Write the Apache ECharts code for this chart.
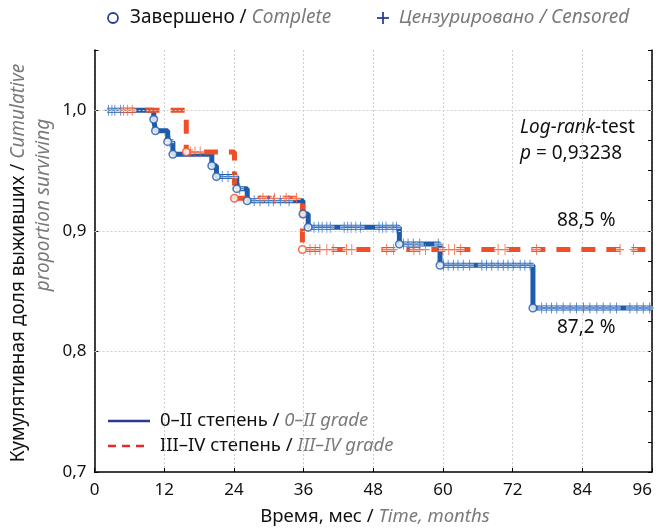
<!DOCTYPE html>
<html>
<head>
<meta charset="utf-8">
<script src="https://cdn.jsdelivr.net/npm/echarts@6/dist/echarts.min.js"></script>
<style>
  html, body { margin: 0; padding: 0; background: #fff; }
  #chart { width: 657px; height: 528px; }
</style>
</head>
<body>
<div id="chart"></div>
<script>
// Kaplan-Meier curves, values
const blueTime = [2.2, 10.2, 10.5, 12.6, 13.5, 20.2, 21.0, 24.5, 26.3, 35.9, 36.8, 52.5, 59.5, 75.5, 96]
const blueSurv = [1.0, 0.9925, 0.983, 0.974, 0.9635, 0.954, 0.945, 0.935, 0.925, 0.914, 0.903, 0.889, 0.8715, 0.836, 0.836]

const redTime = [4.5, 15.8, 24.1, 35.8, 96]
const redSurv = [1.0, 0.9654, 0.927, 0.8845, 0.8845]

// complete events (circles)
const blueComplete = [[10.2, 0.9925], [10.5, 0.983], [12.6, 0.974], [13.5, 0.9635], [20.2, 0.954], [21.0, 0.945],
  [24.5, 0.935], [26.3, 0.925], [35.9, 0.914], [36.8, 0.903], [52.5, 0.889], [59.5, 0.8715], [75.5, 0.836]]
const redComplete = [[15.8, 0.9654], [24.1, 0.927], [35.8, 0.8845]]

// censored (+)
const blueCensored = [
  [2.4, 1.0], [3.0, 1.0], [3.5, 1.0], [4.5, 1.0],
  [13.0, 0.974],
  [22.0, 0.945], [23.0, 0.945], [24.0, 0.945], [25.0, 0.935],
  [27.5, 0.925], [28.5, 0.925], [30.0, 0.925], [30.8, 0.925], [32.0, 0.925], [33.5, 0.925],
  [37.8, 0.903], [38.6, 0.903], [39.2, 0.903], [40.0, 0.903], [40.6, 0.903], [43.0, 0.903], [43.6, 0.903],
  [44.2, 0.903], [45.0, 0.903], [45.8, 0.903], [49.0, 0.903], [49.6, 0.903], [50.2, 0.903], [51.4, 0.903], [52.0, 0.903],
  [53.2, 0.889], [54.0, 0.889], [54.9, 0.889], [56.0, 0.889], [59.2, 0.889],
  [60.1, 0.8715], [60.9, 0.8715], [61.8, 0.8715], [62.6, 0.8715], [63.5, 0.8715], [64.6, 0.8715], [66.7, 0.8715],
  [67.5, 0.8715], [68.4, 0.8715], [69.5, 0.8715], [70.4, 0.8715], [71.2, 0.8715], [72.1, 0.8715], [73.3, 0.8715],
  [74.1, 0.8715], [75.0, 0.8715],
  [77.0, 0.836], [77.8, 0.836], [78.7, 0.836], [79.6, 0.836], [80.7, 0.836], [81.9, 0.836], [83.0, 0.836],
  [84.2, 0.836], [85.3, 0.836], [86.5, 0.836], [87.6, 0.836], [88.8, 0.836], [89.9, 0.836], [92.2, 0.836],
  [93.4, 0.836], [94.5, 0.836], [95.6, 0.836]
]
const redCensored = [
  [5.0, 1.0], [5.7, 1.0], [6.5, 1.0],
  [16.5, 0.9654], [17.3, 0.9654], [18.2, 0.9654],
  [29.0, 0.927], [31.0, 0.927], [33.0, 0.927], [34.8, 0.927],
  [37.1, 0.8845], [38.0, 0.8845], [38.8, 0.8845], [40.0, 0.8845], [41.1, 0.8845], [43.4, 0.8845], [44.3, 0.8845],
  [50.3, 0.8845], [51.5, 0.8845], [55.0, 0.8845], [56.0, 0.8845], [57.0, 0.8845],
  [60.0, 0.8845], [61.0, 0.8845], [62.0, 0.8845], [63.0, 0.8845], [69.5, 0.8845], [70.7, 0.8845],
  [76.1, 0.8845], [90.5, 0.8845], [92.8, 0.8845]
]

const xTicks = [0, 12, 24, 36, 48, 60, 72, 84, 96]
const yTicks = [0.7, 0.8, 0.9, 1.0]
const yGrid = [0.8, 0.9, 1.0]

const FONT = 'Noto Sans'
const FS = 18.5
const BLUE = '#1f5bab'
const RED = '#f04e27'
const GREY = '#7a7a7a'
const PLUS = 'path://M4.4,0h1.2v10h-1.2z M0,4.4h10v1.2h-10z'

const chart = echarts.init(document.getElementById('chart'))

const zip = (a, b) => a.map((v, i) => [v, b[i]])

// black text followed by grey italic text
const mixed = (a, b, size) => ({
  text: `{a|${a}}{b|${b}}`,
  rich: {
    a: { fontFamily: FONT, fontSize: size, fill: '#111' },
    b: { fontFamily: FONT, fontSize: size, fill: GREY, fontStyle: 'italic' }
  }
})

// censor mark: white gap in the thick line, then a thin plus on top
const censorSeries = (data, color) => [
  {
    type: 'scatter', data, symbol: 'rect', symbolSize: [8, 3], silent: true,
    itemStyle: { color: '#fff' }, z: 4
  },
  {
    type: 'scatter', data, symbol: PLUS, symbolSize: [8, 11],
    itemStyle: { color }, z: 4.5
  }
]

const option = {
  animation: false,
  textStyle: { fontFamily: FONT },
  grid: { left: 94.5, right: 5, top: 50, bottom: 56, outerBoundsMode: 'none' },
  xAxis: {
    type: 'value', min: 0, max: 96, interval: 12,
    axisLine: { lineStyle: { color: '#000', width: 1.5 } },
    axisTick: { inside: true, length: 4, lineStyle: { color: '#000' } },
    axisLabel: {
      color: '#111', fontSize: 17, margin: 10, alignMaxLabel: 'right',
      formatter: v => xTicks.includes(v) ? String(v) : ''
    },
    splitLine: { show: true, lineStyle: { color: '#cfcfcf', type: [2, 2] } }
  },
  yAxis: [
    {
      type: 'value', min: 0.7, max: 1.05, interval: 0.1,
      axisLine: { show: true, lineStyle: { color: '#000', width: 1.5 } },
      axisTick: { show: true, inside: true, length: 4, lineStyle: { color: '#000' } },
      axisLabel: {
        color: '#111', fontSize: 17, margin: 8,
        formatter: v => yTicks.some(t => Math.abs(t - v) < 1e-6) ? v.toFixed(1).replace('.', ',') : ''
      },
      splitLine: { show: false }
    },
    {
      type: 'value', min: 0.7, max: 1.05, interval: 0.025, position: 'right',
      axisLine: { show: true, lineStyle: { color: '#000', width: 1.5 } },
      axisTick: { show: true, inside: true, length: 4, lineStyle: { color: '#000' } },
      axisLabel: { show: false },
      splitLine: { show: false }
    }
  ],
  series: [
    {
      // horizontal grid lines
      type: 'line', data: [], silent: true,
      markLine: {
        silent: true, symbol: 'none', label: { show: false },
        lineStyle: { color: '#cfcfcf', type: [2, 2], width: 1 },
        data: yGrid.map(v => ({ yAxis: v }))
      }
    },
    {
      name: '0–II', type: 'line', step: 'end', data: zip(blueTime, blueSurv),
      showSymbol: false, lineStyle: { color: BLUE, width: 5 }, z: 2
    },
    {
      name: 'III–IV', type: 'line', step: 'end', data: zip(redTime, redSurv),
      showSymbol: false, lineStyle: { color: RED, width: 5, type: [14, 11], cap: 'butt' }, z: 3
    },
    ...censorSeries(blueCensored, '#3572c4'),
    ...censorSeries(redCensored, '#f2603a'),
    {
      type: 'scatter', data: blueComplete, symbol: 'circle', symbolSize: 7.5,
      itemStyle: { color: '#fff', borderColor: BLUE, borderWidth: 1.6 }, z: 5
    },
    {
      type: 'scatter', data: redComplete, symbol: 'circle', symbolSize: 7.5,
      itemStyle: { color: '#fff', borderColor: RED, borderWidth: 1.6 }, z: 5
    }
  ],
  graphic: [
    // top legend
    { type: 'circle', shape: { cx: 113, cy: 18, r: 5 }, style: { fill: '#fff', stroke: '#2b3f96', lineWidth: 1.8 } },
    { type: 'text', x: 130, y: 18, style: Object.assign(mixed('Завершено / ', 'Complete', 19), { verticalAlign: 'middle' }) },
    { type: 'line', shape: { x1: 377, y1: 18, x2: 389, y2: 18 }, style: { stroke: '#2b3f96', lineWidth: 1.8 } },
    { type: 'line', shape: { x1: 383, y1: 12, x2: 383, y2: 24 }, style: { stroke: '#2b3f96', lineWidth: 1.8 } },
    {
      type: 'text', x: 399, y: 18,
      style: { text: 'Цензурировано / Censored', verticalAlign: 'middle', fontFamily: FONT, fontSize: 19, fill: GREY, fontStyle: 'italic' }
    },
    // bottom legend
    { type: 'line', shape: { x1: 108, y1: 421, x2: 150, y2: 421 }, style: { stroke: '#2b3a92', lineWidth: 2.5 } },
    { type: 'text', x: 160, y: 421, style: Object.assign(mixed('0–II степень / ', '0–II grade', FS), { verticalAlign: 'middle' }) },
    { type: 'line', shape: { x1: 108, y1: 446, x2: 150, y2: 446 }, style: { stroke: '#e8262b', lineWidth: 2.5, lineDash: [8, 6] } },
    { type: 'text', x: 160, y: 446, style: Object.assign(mixed('III–IV степень / ', 'III–IV grade', FS), { verticalAlign: 'middle' }) },
    // test annotation
    {
      type: 'text', x: 520, y: 128,
      style: {
        text: '{i|Log-rank}{a|-test}', verticalAlign: 'middle',
        rich: {
          i: { fontFamily: FONT, fontSize: 19, fill: '#111', fontStyle: 'italic' },
          a: { fontFamily: FONT, fontSize: 19, fill: '#111' }
        }
      }
    },
    {
      type: 'text', x: 520, y: 154,
      style: {
        text: '{i|p}{a| = 0,93238}', verticalAlign: 'middle',
        rich: {
          i: { fontFamily: FONT, fontSize: 19, fill: '#111', fontStyle: 'italic' },
          a: { fontFamily: FONT, fontSize: 19, fill: '#111' }
        }
      }
    },
    { type: 'text', x: 557, y: 221, style: { text: '88,5 %', verticalAlign: 'middle', fontFamily: FONT, fontSize: 19, fill: '#111' } },
    { type: 'text', x: 557, y: 328, style: { text: '87,2 %', verticalAlign: 'middle', fontFamily: FONT, fontSize: 19, fill: '#111' } },
    // axis names
    {
      type: 'text', x: 375, y: 517,
      style: Object.assign(mixed('Время, мес / ', 'Time, months', FS), { align: 'center', verticalAlign: 'middle' })
    },
    {
      type: 'text', x: 19, y: 263, rotation: Math.PI / 2,
      style: Object.assign(mixed('Кумулятивная доля выживших / ', 'Cumulative', 19), { align: 'center', verticalAlign: 'middle' })
    },
    {
      type: 'text', x: 44, y: 205, rotation: Math.PI / 2,
      style: { text: 'proportion surviving', align: 'center', verticalAlign: 'middle', fontFamily: FONT, fontSize: 19, fill: GREY, fontStyle: 'italic' }
    }
  ]
}

chart.setOption(option)
</script>
</body>
</html>
